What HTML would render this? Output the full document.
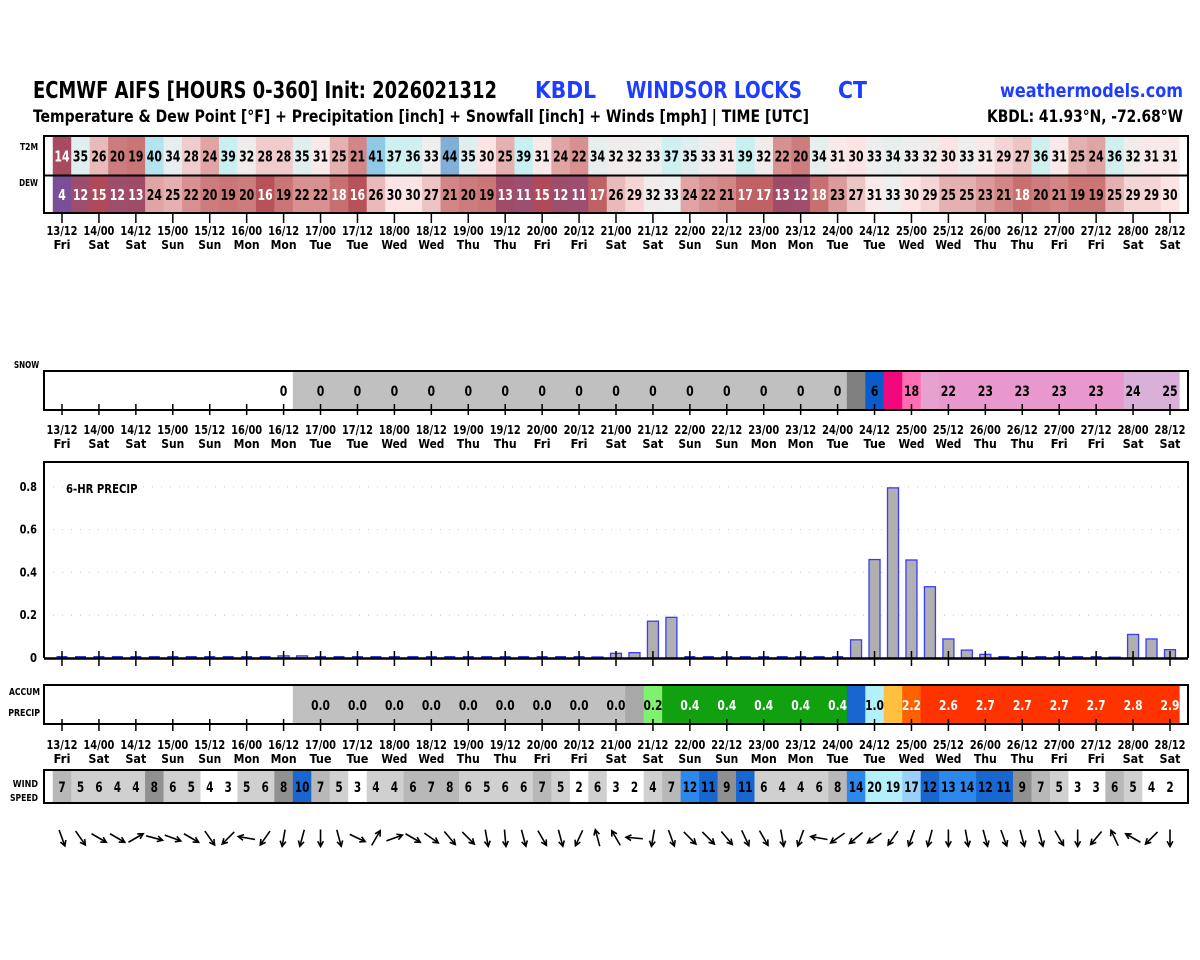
<!DOCTYPE html>
<html><head><meta charset="utf-8"><style>
html,body{margin:0;padding:0;background:#fff;}
svg{display:block;font-family:"DejaVu Sans Condensed","DejaVu Sans","Liberation Sans",sans-serif;font-stretch:condensed;font-weight:bold;}
</style></head><body>
<svg id="chart" width="1200" height="960" viewBox="0 0 1200 960" xmlns="http://www.w3.org/2000/svg">
<rect width="1200" height="960" fill="#fff"/>
<g>
<text x="33" y="98" font-size="23" textLength="464" lengthAdjust="spacingAndGlyphs">ECMWF AIFS [HOURS 0-360] Init: 2026021312</text>
<text x="535" y="98" font-size="23" fill="#1f3dff" textLength="61" lengthAdjust="spacingAndGlyphs">KBDL</text>
<text x="626" y="98" font-size="23" fill="#1f3dff" textLength="176" lengthAdjust="spacingAndGlyphs">WINDSOR LOCKS</text>
<text x="838" y="98" font-size="23" fill="#1f3dff" textLength="29" lengthAdjust="spacingAndGlyphs">CT</text>
<text x="1183" y="97" font-size="19" fill="#1f3dff" text-anchor="end" textLength="183" lengthAdjust="spacingAndGlyphs">weathermodels.com</text>
<text x="33" y="122" font-size="17" textLength="776" lengthAdjust="spacingAndGlyphs">Temperature &amp; Dew Point [°F] + Precipitation [inch] + Snowfall [inch] + Winds [mph] | TIME [UTC]</text>
<text x="1183" y="122" font-size="17" text-anchor="end" textLength="196" lengthAdjust="spacingAndGlyphs">KBDL: 41.93°N, -72.68°W</text>
</g>
<g id="g"></g>
</svg>
<script>
const dateLabels=["13/12","14/00","14/12","15/00","15/12","16/00","16/12","17/00","17/12","18/00","18/12","19/00","19/12","20/00","20/12","21/00","21/12","22/00","22/12","23/00","23/12","24/00","24/12","25/00","25/12","26/00","26/12","27/00","27/12","28/00","28/12"];
const dayLabels=["Fri","Sat","Sat","Sun","Sun","Mon","Mon","Tue","Tue","Wed","Wed","Thu","Thu","Fri","Fri","Sat","Sat","Sun","Sun","Mon","Mon","Tue","Tue","Wed","Wed","Thu","Thu","Fri","Fri","Sat","Sat"];
const t2m=[14,35,26,20,19,40,34,28,24,39,32,28,28,35,31,25,21,41,37,36,33,44,35,30,25,39,31,24,22,34,32,32,33,37,35,33,31,39,32,22,20,34,31,30,33,34,33,32,30,33,31,29,27,36,31,25,24,36,32,31,31];
const dew=[4,12,15,12,13,24,25,22,20,19,20,16,19,22,22,18,16,26,30,30,27,21,20,19,13,11,15,12,11,17,26,29,32,33,24,22,21,17,17,13,12,18,23,27,31,33,30,29,25,25,23,21,18,20,21,19,19,25,29,29,30];
const snow=[0,0,0,0,0,0,0,0,0,0,0,0,0,0,0,0,0,0,0,0,0,0,0,0,0,0,0,0,0,0,0,0,0,0,0,0,0,0,0,0,0,0,0,0.4,6,12,18,21,22,22.5,23,23,23,23,23,23,23,23,24,24.5,25];
const precip=[0,0,0,0,0,0,0,0,0,0,0,0,0.01,0.01,0,0,0,0,0,0,0,0,0,0,0,0,0,0,0,0.005,0.022,0.025,0.172,0.19,0,0,0,0,0,0,0,0,0,0.085,0.46,0.795,0.458,0.333,0.089,0.037,0.017,0,0,0,0,0,0,0.004,0.11,0.089,0.039];
const wind=[7,5,6,4,4,8.4,6,5,3.5,3,5,6,8.4,10,7,5,3,4,4,6.45,7,7.6,6,5,6,6,7,5,2,6,3,2,4,7,12.45,11,9,11,6,4,4,6,7.6,14,20,19,17,12,13,14,12,11,9,7,5,3,3,6.45,5,3.5,2];
const windDir=[160,145,120,120,60,105,110,120,145,225,280,215,190,195,180,165,115,30,70,120,125,140,135,170,175,165,150,165,205,345,330,275,190,160,135,135,140,155,150,170,200,280,235,230,235,215,200,195,180,170,165,160,165,165,150,180,220,335,300,225,180];
const precipTicks=[0,0.2,0.4,0.6,0.8];
const snowStart=13, accumStart=13;

const NS="http://www.w3.org/2000/svg";
const G=document.getElementById('g');
const X0=62, DX=(1170-62)/60, BL=44, BR=1188;
function x(i){return X0+i*DX;}
const PY0=658, PSC=214;
function py(v){return PY0-v*PSC;}
function mk(tag,attrs,parent){const e=document.createElementNS(NS,tag);for(const k in attrs)e.setAttribute(k,attrs[k]);(parent||G).appendChild(e);return e;}
function txt(s,attrs,parent,cw,fixed){const e=mk('text',attrs,parent);e.textContent=s;if(cw||fixed){e.setAttribute('textLength',(fixed||s.length*cw).toFixed(1));e.setAttribute('lengthAdjust','spacingAndGlyphs');}return e;}
const DAYW={Fri:17,Sat:21,Sun:23,Mon:26,Tue:22,Wed:26,Thu:23};

const stops=[[4,[122,79,154]],[11,[156,79,112]],[13,[160,75,104]],[15,[176,74,88]],[16,[184,82,88]],[18,[200,112,112]],[20,[204,124,124]],[22,[216,144,144]],[24,[224,164,164]],[25,[228,176,176]],[27,[236,196,196]],[29,[244,212,212]],[30,[252,228,228]],[31,[248,234,234]],[32,[240,236,236]],[33,[238,238,238]],[34,[230,238,238]],[35,[224,238,240]],[36,[208,240,240]],[39,[200,240,240]],[40,[180,228,240]],[41,[144,200,232]],[44,[128,176,216]]];
function tcol(v){if(v<=stops[0][0])return 'rgb('+stops[0][1]+')';for(let k=1;k<stops.length;k++){if(v<=stops[k][0]){const a=stops[k-1],b=stops[k];const f=(v-a[0])/(b[0]-a[0]);return 'rgb('+a[1].map((c,j)=>Math.round(c+(b[1][j]-c)*f)).join(',')+')';}}return 'rgb('+stops[stops.length-1][1]+')';}

function tickRow(y1,y2,ly,name){
  const g=mk('g',{});
  
  
  dateLabels.forEach((d,k)=>{
    const xx=x(k*2);
    mk('line',{x1:xx,x2:xx,y1:y1,y2:y2,stroke:'#000','stroke-width':1.5},g);
    if(ly){
      const t=txt(d,{x:xx,y:ly,'font-size':12.5,'text-anchor':'middle'},g,6.2);
      
      
      const t2=txt(dayLabels[k],{x:xx,y:ly+14,'font-size':12.5,'text-anchor':'middle'},g,0,DAYW[dayLabels[k]]);
      
      
    }
  });
}

function tempRow(arr,y,h,name){
  const g=mk('g',{});
  
  
  arr.forEach((v,i)=>{
    const r=mk('rect',{x:x(i)-DX/2,y:y,width:DX+0.4,height:h,fill:tcol(v)},g);
    
    
    const t=txt(String(v),{x:x(i),y:y+h/2+5.5,'font-size':15,'text-anchor':'middle',fill:v<=18?'#fff':'#000'},g,7.6);
    
    
  });
}
tempRow(t2m,137,38,'t2m-row');
tempRow(dew,176,37,'dew-row');
mk('rect',{x:BL,y:136,width:BR-BL,height:77,fill:'none',stroke:'#000','stroke-width':2});
mk('line',{x1:BL,x2:BR,y1:175.5,y2:175.5,stroke:'#000','stroke-width':2});
txt('T2M',{x:38,y:150,'font-size':10,'text-anchor':'end'},G,6);
txt('DEW',{x:38,y:186,'font-size':10,'text-anchor':'end'},G,6.3);
tickRow(214,223,235,'top-time-axis');

function snowCol(i,v){if(i<snowStart)return '#fff';if(v===0)return '#c0c0c0';if(v<1)return '#808080';if(v<10)return '#0a5ccc';if(v<15)return '#f0087c';if(v<20)return '#ff6eb4';if(v<21.5)return '#e8a0d0';if(v<24)return '#e898cc';return '#d8b0d8';}
const sg=mk('g',{});


snow.forEach((v,i)=>{
  const r=mk('rect',{x:x(i)-DX/2,y:372,width:DX+0.4,height:38,fill:snowCol(i,v)},sg);
  
  
  if(i%2===0&&i>=snowStart-1){
    const t=txt(String(Math.round(v)),{x:x(i),y:396,'font-size':14,'text-anchor':'middle'},sg,7.6);
    
    
  }
});
mk('rect',{x:BL,y:371,width:BR-BL,height:39,fill:'none',stroke:'#000','stroke-width':2});
txt('SNOW',{x:14,y:368,'font-size':10},G,6.3);
tickRow(404,415,434,'snow-time-axis');

const pg=mk('g',{});


precipTicks.forEach(v=>{
  if(v>0)mk('line',{x1:BL,x2:BR,y1:py(v),y2:py(v),stroke:'#c8c8c8','stroke-width':1,'stroke-dasharray':'1,8'},pg);
  const s=String(v);
  const t=txt(s,{x:37,y:py(v)+4,'font-size':12,'text-anchor':'end'},pg,s.length>1?5.8:7);
  
  
});
precip.forEach((v,i)=>{
  const bw=11;
  if(v>0.003){
    const r=mk('rect',{x:x(i)-bw/2,y:py(v),width:bw,height:PY0-py(v),fill:'#b0b0b0',stroke:'#3b3bff','stroke-width':1.3},pg);
    
    
  } else {
    const r=mk('rect',{x:x(i)-bw/2,y:PY0-2,width:bw,height:2,fill:'#2a3be0'},pg);
    
    
  }
});
mk('polyline',{points:`${BL},658 ${BL},462 ${BR},462 ${BR},658`,fill:'none',stroke:'#000','stroke-width':2},pg);
mk('line',{x1:BL,x2:BR,y1:658.5,y2:658.5,stroke:'#000','stroke-width':2.5},pg);
txt('6-HR PRECIP',{x:66,y:493,'font-size':12},pg,6.5);
tickRow(651,666,0,'precip-x-ticks');

function accCol(v){if(v<0.04)return '#c0c0c0';if(v<0.1)return '#a8a8a8';if(v<0.25)return '#80f070';if(v<0.5)return '#10a010';if(v<0.75)return '#1866d0';if(v<1.5)return '#b4f0fa';if(v<2)return '#ffc040';if(v<2.5)return '#ff6000';return '#ff3300';}
const ag=mk('g',{});


let acc=0;
precip.forEach((v,i)=>{
  let fill='#fff';
  if(i>=accumStart){acc+=v;fill=accCol(acc);}
  const r=mk('rect',{x:x(i)-DX/2,y:686,width:DX+0.4,height:38,fill:fill},ag);
  
  
  if(i>=accumStart&&i%2===0){
    const dark=(acc>=0.25&&acc<0.75)||acc>=2;
    const t=txt((Math.round(acc*10+1e-9)/10).toFixed(1),{x:x(i),y:710,'font-size':13.5,'text-anchor':'middle',fill:dark?'#fff':'#000'},ag,6.3);
    
    
  }
});
mk('rect',{x:BL,y:685,width:BR-BL,height:39,fill:'none',stroke:'#000','stroke-width':2});
txt('ACCUM',{x:40,y:695,'font-size':10,'text-anchor':'end'},G,6.2);
txt('PRECIP',{x:40,y:716,'font-size':10,'text-anchor':'end'},G,5.3);
tickRow(719,731,749,'accum-time-axis');

function windCol(v){if(v<3.6)return '#fff';if(v<6.4)return '#d0d0d0';if(v<8)return '#b8b8b8';if(v<10)return '#909090';if(v<12.4)return '#1866d0';if(v<16)return '#2c88ec';if(v<18)return '#98d0f8';return '#b4f0fa';}
const wg=mk('g',{});


wind.forEach((v,i)=>{
  const r=mk('rect',{x:x(i)-DX/2,y:771,width:DX+0.4,height:32,fill:windCol(v)},wg);
  
  
  const t=txt(String(Math.round(v)),{x:x(i),y:792,'font-size':14,'text-anchor':'middle'},wg,7.3);
  
  
});
mk('rect',{x:BL,y:770,width:BR-BL,height:33,fill:'none',stroke:'#000','stroke-width':2});
txt('WIND',{x:38,y:787,'font-size':10,'text-anchor':'end'},G,6.3);
txt('SPEED',{x:38,y:801,'font-size':10,'text-anchor':'end'},G,5.6);

const dg=mk('g',{});


windDir.forEach((d,i)=>{
  const a=d*Math.PI/180, L=17;
  const dx=Math.sin(a), dy=-Math.cos(a);
  const cx=x(i), cy=838;
  const x1=cx-dx*L/2, y1=cy-dy*L/2, x2=cx+dx*L/2, y2=cy+dy*L/2;
  const h=6, s=0.5;
  const hx1=x2-h*(dx*Math.cos(s)-dy*Math.sin(s)), hy1=y2-h*(dy*Math.cos(s)+dx*Math.sin(s));
  const hx2=x2-h*(dx*Math.cos(-s)-dy*Math.sin(-s)), hy2=y2-h*(dy*Math.cos(-s)+dx*Math.sin(-s));
  const p=mk('path',{d:`M${x1},${y1}L${x2},${y2}M${hx1},${hy1}L${x2},${y2}L${hx2},${hy2}`,stroke:'#000','stroke-width':1.6,fill:'none'},dg);
  
  
});
</script>
</body></html>
